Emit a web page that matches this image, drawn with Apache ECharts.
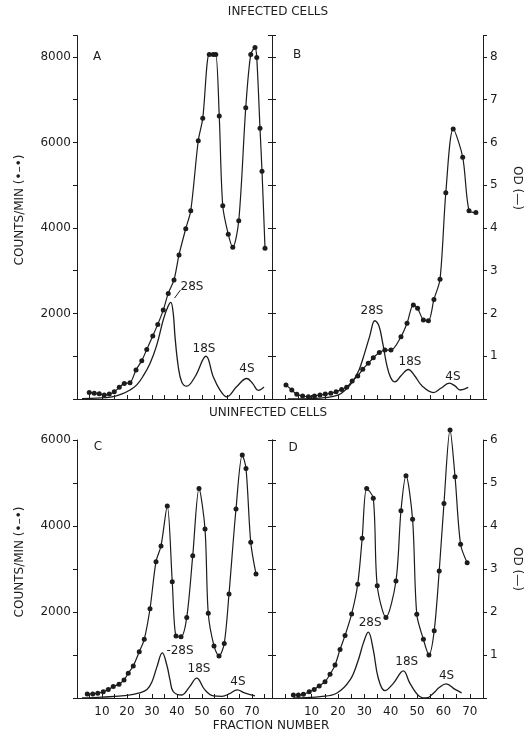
<!DOCTYPE html>
<html><head><meta charset="utf-8">
<script src="https://cdn.jsdelivr.net/npm/echarts@6/dist/echarts.min.js"></script>
<style>html,body{margin:0;padding:0;background:#fff}#c{width:532px;height:742px}</style>
</head><body><div id="c"></div>
<script>
// ---- Panel A (infected, counts/min, dots) ----
const fracA = [4.9,6.9,8.9,10.9,12.9,14.9,16.9,18.9,21.2,23.6,25.9,27.9,30.3,32.3,34.5,36.5,38.8,40.8,43.5,45.5,48.5,50.3,52.9,54.5,55.5,56.9,58.3,60.5,62.3,64.7,67.5,69.5,71.2,71.9,73.2,74.0,75.2];
const countsA = [150,135,120,95,115,170,275,365,380,680,895,1160,1475,1745,2080,2470,2785,3370,3985,4405,6040,6565,8060,8060,8060,6620,4520,3855,3550,4170,6815,8060,8220,7985,6330,5330,3525];
// ---- Panel A (infected, OD, line) ----
const odFracA = [2,8,14,18,21.2,23.9,26.5,29.2,31.9,34.5,36.3,37.5,38.5,39.2,40.5,41.9,43.9,47.2,51.6,54.5,57.2,59.9,63.9,67.9,70.3,72.5,74.8];
const odA = [0.01,0.02,0.05,0.12,0.21,0.33,0.54,0.83,1.26,1.85,2.15,2.26,2.0,1.46,0.76,0.4,0.3,0.52,1.0,0.52,0.21,0.05,0.29,0.48,0.36,0.2,0.28];
// ---- Panel B ----
const fracB = [0.3,2.5,4.4,6.6,8.8,11.1,13.2,15.2,17.3,19.3,21.4,23.3,25.4,27.5,29.4,31.5,33.4,35.7,37.8,40.1,43.9,46.2,48.6,50.2,52.4,54.3,56.4,58.7,60.9,63.7,67.3,69.7,72.3];
const countsB = [330,210,110,70,55,70,95,115,135,170,225,275,420,540,695,835,965,1085,1145,1145,1455,1770,2200,2120,1850,1830,2330,2800,4825,6315,5655,4405,4360];
const odFracB = [1,5,10,15,20,23,25.5,28,30,32,34,35.5,37,38.5,40,41.6,44,46.7,49,52,56.2,59,62.2,64.5,66.3,69.4];
const odB = [0,0,0.01,0.03,0.09,0.22,0.4,0.68,1.05,1.46,1.83,1.72,1.3,0.8,0.5,0.4,0.55,0.69,0.55,0.3,0.15,0.25,0.37,0.3,0.21,0.27];
// ---- Panel C (uninfected) ----
const fracC = [4.1,6.3,8.3,10.5,12.5,14.5,16.8,18.8,20.5,22.5,24.9,26.9,29.2,31.6,33.6,36.1,38.1,39.6,41.6,43.9,46.3,48.8,51.2,52.5,54.8,56.8,58.9,60.8,63.6,66.1,67.6,69.5,71.6];
const countsC = [95,95,110,145,200,265,320,420,575,745,1075,1365,2075,3170,3535,4465,2705,1440,1425,1875,3310,4870,3930,1970,1210,975,1270,2420,4395,5650,5340,3620,2885];
const odFracC = [2,10,20,25,28,30,32,34.1,36,37.2,38.5,41.9,45,47.9,51,54.5,58,61,64.1,67,71.2];
const odC = [0,0.02,0.06,0.12,0.2,0.38,0.73,1.05,0.75,0.42,0.15,0.07,0.26,0.46,0.2,0.05,0.04,0.1,0.19,0.12,0.05];
// ---- Panel D ----
const fracD = [3.1,5.0,6.9,9.1,11.0,12.9,15.1,17.0,18.9,20.8,22.7,25.2,27.5,29.2,30.9,33.4,34.9,38.2,42.0,43.9,45.8,48.3,49.9,52.4,54.5,56.5,58.4,60.2,62.5,64.4,66.5,69.0];
const countsD = [70,70,85,145,200,280,380,550,765,1130,1455,1955,2645,3715,4875,4645,2610,1875,2720,4355,5170,4155,1945,1365,1000,1565,2955,4525,6230,5145,3575,3145];
const odFracD = [3.1,8,13.2,19.5,24.6,27.7,29.6,31.5,33.4,35.3,37.8,41,44.8,47.3,51.1,53.6,56.2,58.5,61,64.4,66.9];
const odD = [0,0.01,0.03,0.11,0.42,0.88,1.27,1.53,1.12,0.46,0.17,0.34,0.63,0.34,0.03,0,0.11,0.25,0.33,0.2,0.12];
// ---- Tick labels ----
const xTickLabels = [10,20,30,40,50,60,70];
const countTickLabels = [2000,4000,6000,8000];
const odTickLabels = [1,2,3,4,5,6,7,8];

const ink = '#1c1c1c';
const font = 'DejaVu Sans';
const zip = (xs, ys) => xs.map((x, i) => [x, ys[i]]);

const grids = [
  {left:77, top:35.6, width:195, height:363.4},
  {left:272, top:35.6, width:211, height:363.4},
  {left:77, top:440, width:195, height:258},
  {left:272, top:440, width:211, height:258}
].map(g => Object.assign({containLabel:false, outerBoundsMode:'none'}, g));

function xAx(gi, min, max, labels) {
  return {type:'value', gridIndex:gi, min, max, interval:5,
    axisLine:{show:true, onZero:false, lineStyle:{color:ink, width:1}},
    axisTick:{show:true, inside:true, length:4, lineStyle:{color:ink}},
    axisLabel:{show:labels, margin:8, fontFamily:font, fontSize:12, color:ink,
      formatter: v => xTickLabels.includes(v) ? String(v) : ''},
    splitLine:{show:false}};
}
function yAx(gi, max, interval, position, opt) {
  return Object.assign({type:'value', gridIndex:gi, min:0, max, interval, position,
    axisLine:{show:true, onZero:false, lineStyle:{color:ink, width:1}},
    axisTick:{show:true, inside:false, length:4, lineStyle:{color:ink}},
    axisLabel:{show:false},
    splitLine:{show:false}}, opt || {});
}
const countLabel = {show:true, margin:6, fontFamily:font, fontSize:12, color:ink,
  formatter: v => countTickLabels.includes(v) ? String(v) : ''};
const odLabel = {show:true, margin:7, fontFamily:font, fontSize:12, color:ink,
  formatter: v => odTickLabels.includes(v) ? String(v) : ''};

const xAxis = [xAx(0,0,78,false), xAx(1,-5,75,false), xAx(2,0,78,true), xAx(3,-5,75,true)];
const yAxis = [
  yAx(0, 8500, 1000, 'left', {axisLabel:countLabel}),            // 0 A counts
  yAx(0, 8.5, 1, 'right', {show:false}),                        // 1 A OD
  yAx(0, 8500, 1000, 'right', {axisTick:{inside:true, length:4, lineStyle:{color:ink}}}), // 2 A right edge
  yAx(1, 8500, 1000, 'left', {axisTick:{inside:true, length:4, lineStyle:{color:ink}}}),  // 3 B left edge
  yAx(1, 8.5, 1, 'right', {axisLabel:odLabel}),                 // 4 B OD
  yAx(2, 6000, 1000, 'left', {axisLabel:countLabel}),            // 5 C counts
  yAx(2, 6, 1, 'right', {show:false}),                          // 6 C OD
  yAx(2, 6000, 1000, 'right', {axisTick:{inside:true, length:4, lineStyle:{color:ink}}}), // 7 C right edge
  yAx(3, 6000, 1000, 'left', {axisTick:{inside:true, length:4, lineStyle:{color:ink}}}),  // 8 D left edge
  yAx(3, 6, 1, 'right', {axisLabel:odLabel})                    // 9 D OD
];

function dots(xi, yi, xs, ys) {
  return {type:'line', xAxisIndex:xi, yAxisIndex:yi, data:zip(xs, ys), smooth:0.3,
    symbol:'circle', symbolSize:5, showSymbol:true, clip:false,
    itemStyle:{color:ink}, lineStyle:{color:ink, width:1.2}, silent:true};
}
const mpLabel = {show:true, position:'inside', formatter:'{b}', fontFamily:font, fontSize:12, color:ink};
function odLine(xi, yi, xs, ys, marks, extra) {
  return Object.assign({type:'line', xAxisIndex:xi, yAxisIndex:yi, data:zip(xs, ys), smooth:0.4,
    showSymbol:false, symbol:'none', clip:false, lineStyle:{color:ink, width:1.3}, silent:true,
    markPoint:{symbol:'circle', symbolSize:0, silent:true, label:mpLabel,
      itemStyle:{color:'transparent'}, data:marks}}, extra || {});
}

const txt = (t, x, y, rot) => ({type:'text', x, y, rotation:rot || 0,
  style:{text:t, font:'12px "DejaVu Sans"', fill:ink, align:'center', verticalAlign:'middle'}});

const option = {
  animation:false,
  backgroundColor:'#ffffff',
  textStyle:{fontFamily:font},
  grid:grids,
  xAxis, yAxis,
  series:[
    dots(0, 0, fracA, countsA),
    odLine(0, 1, odFracA, odA, [
      {name:'A', coord:[8, 8.0]},
      {name:'28S', coord:[46, 2.62]},
      {name:'18S', coord:[50.8, 1.17]},
      {name:'4S', coord:[68, 0.70]}
    ], {markLine:{silent:true, symbol:'none', label:{show:false}, lineStyle:{color:ink, width:1, type:'solid'},
      data:[[{coord:[41.4, 2.55]}, {coord:[39.0, 2.36]}]]}}),
    dots(1, 3, fracB, countsB),
    odLine(1, 4, odFracB, odB, [
      {name:'B', coord:[4.5, 8.05]},
      {name:'28S', coord:[32.9, 2.06]},
      {name:'18S', coord:[47.3, 0.87]},
      {name:'4S', coord:[63.6, 0.51]}
    ]),
    dots(2, 5, fracC, countsC),
    odLine(2, 6, odFracC, odC, [
      {name:'C', coord:[8.4, 5.84]},
      {name:'-28S', coord:[41.2, 1.10]},
      {name:'18S', coord:[48.8, 0.67]},
      {name:'4S', coord:[64.4, 0.38]}
    ]),
    dots(3, 8, fracD, countsD),
    odLine(3, 9, odFracD, odD, [
      {name:'D', coord:[3, 5.81]},
      {name:'28S', coord:[32.2, 1.74]},
      {name:'18S', coord:[46.1, 0.84]},
      {name:'4S', coord:[61.2, 0.51]}
    ])
  ],
  graphic:[
    txt('INFECTED CELLS', 278, 12),
    txt('UNINFECTED CELLS', 268, 413),
    txt('FRACTION NUMBER', 271, 726),
    txt('COUNTS/MIN (•–•)', 20, 210, Math.PI/2),
    txt('COUNTS/MIN (•–•)', 20, 562, Math.PI/2),
    txt('OD (—)', 517, 188, -Math.PI/2),
    txt('OD (—)', 517, 569, -Math.PI/2)
  ]
};
const chart = echarts.init(document.getElementById('c'), null, {renderer:'canvas'});
chart.setOption(option);
</script>
</body></html>
